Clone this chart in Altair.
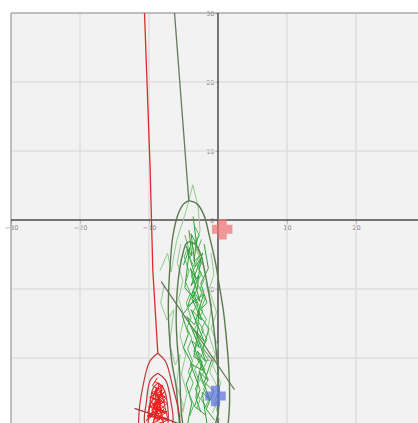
import altair as alt
import pandas as pd

# ---------------- trajectory traces (x, y) ----------------
# red body: long fall from the top, then nested loops near the bottom
red_descent = [(-10.65, 30.0), (-9.83, 7.25), (-9.45, -7.25), (-8.72, -19.3)]
red_loop_outer = [(-8.72, -19.3), (-7.6, -20.5), (-6.55, -24.2), (-5.58, -28.5), (-5.8, -32.0),
                  (-8.5, -34.5), (-11.2, -32.0), (-11.48, -28.5), (-10.9, -24.2), (-9.9, -20.5),
                  (-8.72, -19.3)]
red_loop_mid = [(-8.72, -22.2), (-7.6, -23.2), (-6.78, -26.6), (-6.6, -29.5), (-8.6, -32.0),
                (-10.6, -29.5), (-10.4, -26.6), (-9.8, -23.2), (-8.72, -22.2)]
red_loop_inner = [(-8.7, -23.6), (-7.9, -24.4), (-7.3, -27.0), (-7.4, -30.0), (-8.7, -31.0),
                  (-10.0, -30.0), (-9.9, -27.0), (-9.4, -24.4), (-8.7, -23.6)]
red_scribble_a = [(-8.6, -23.8), (-9.3, -27.2), (-8.1, -24.6), (-9.9, -28.6), (-7.6, -25.9),
                  (-8.9, -24.3), (-10.2, -27.9), (-7.3, -28.8), (-8.4, -24.0), (-9.6, -25.6),
                  (-7.8, -27.3), (-8.8, -29.2), (-9.1, -24.9), (-7.4, -26.6), (-10.4, -29.1),
                  (-8.2, -26.1), (-9.4, -29.4), (-8.0, -23.9)]
red_scribble_b = [(-9.0, -24.4), (-8.3, -28.0), (-9.7, -26.3), (-7.9, -29.4), (-8.7, -25.2),
                  (-10.0, -26.9), (-7.5, -27.9), (-9.2, -28.9), (-8.5, -25.6), (-7.7, -24.8),
                  (-9.6, -27.6), (-8.1, -29.0)]
red_scribble_c = [(-8.8, -22.9), (-9.5, -24.0), (-8.2, -24.8), (-9.9, -25.7), (-7.7, -26.4),
                  (-10.1, -27.1), (-7.4, -27.8), (-10.3, -28.4), (-7.2, -29.0), (-9.0, -29.6)]
red_scribble_d = [(-9.2, -23.4), (-8.0, -24.1), (-9.7, -25.1), (-7.6, -25.6), (-9.4, -26.6),
                  (-8.1, -27.5), (-10.0, -28.2), (-8.4, -28.9), (-9.6, -29.5)]
red_cross_stroke = [(-12.1, -27.3), (-7.03, -29.0), (-5.5, -29.6)]

# green body: straight fall from the top into two large loops with a dense core
green_descent = [(-6.3, 30.0), (-4.23, 2.8)]
green_loop_outer = [(-4.23, 2.8), (-3.0, 2.3), (-2.0, 0.6), (-1.23, -2.42), (-0.4, -6.0),
                    (0.22, -9.67), (0.8, -13.3), (1.19, -16.9), (1.5, -20.5), (1.67, -24.2),
                    (1.6, -28.0), (1.0, -31.5), (-1.5, -34.5), (-4.5, -33.0), (-5.6, -29.0),
                    (-6.06, -24.2), (-6.7, -20.5), (-7.03, -16.9), (-7.2, -13.3), (-7.13, -9.67),
                    (-6.9, -6.0), (-6.55, -2.42), (-5.8, 0.8), (-5.0, 2.3), (-4.23, 2.8)]
green_loop_inner = [(-4.13, -3.14), (-3.2, -3.6), (-2.5, -5.0), (-1.96, -7.25), (-1.3, -10.8),
                    (-0.75, -14.5), (-0.35, -18.1), (-0.03, -21.7), (0.1, -25.0), (0.0, -28.0),
                    (-1.5, -32.0), (-3.5, -33.0), (-5.0, -30.0), (-5.58, -21.7), (-5.9, -18.1),
                    (-6.06, -14.5), (-5.95, -10.8), (-5.58, -7.25), (-5.0, -4.5), (-4.6, -3.4),
                    (-4.13, -3.14)]
green_diagonal = [(-8.23, -8.94), (2.39, -24.6)]

green_light_a = [(-8.4, -7.3), (-7.3, -4.8), (-6.8, -7.5), (-6.0, -3.0), (-4.6, 1.4), (-3.65, 5.1),
                 (-2.9, 2.0), (-2.6, -1.5), (-3.3, -4.0), (-2.2, -6.5)]
green_light_b = [(-7.8, -9.5), (-8.3, -12.0), (-7.4, -14.5), (-6.4, -13.0), (-7.0, -18.0),
                 (-6.2, -21.0), (-5.5, -19.5), (-6.0, -24.0), (-5.0, -27.0), (-5.8, -29.5)]
green_light_c = [(-1.8, -9.0), (-0.9, -12.5), (-1.5, -16.0), (-0.4, -19.5), (-1.2, -22.0),
                 (0.3, -25.0), (-0.8, -28.0)]
green_light_d = [(-5.4, -3.5), (-5.9, -6.2), (-5.1, -8.8), (-5.7, -11.4), (-4.9, -14.1),
                 (-5.5, -16.8), (-4.7, -19.6), (-5.3, -22.3), (-4.5, -25.1), (-5.1, -27.9)]
green_light_e = [(-1.0, -4.8), (-0.6, -7.9), (-1.3, -10.1), (-0.2, -13.4), (-1.0, -15.7),
                 (0.0, -18.3), (-0.8, -21.0), (0.4, -23.6), (-0.5, -26.4), (0.2, -29.0)]

green_core_a = [(-4.2, -1.5), (-3.8, -5.2), (-4.6, -3.8), (-3.2, -8.5), (-4.0, -7.0), (-2.6, -11.8),
                (-3.6, -10.2), (-2.4, -14.5), (-3.9, -13.0), (-2.0, -17.6), (-3.3, -16.0),
                (-1.8, -20.5), (-3.0, -19.0), (-1.5, -23.2), (-2.7, -22.0), (-1.2, -26.0),
                (-2.3, -25.0), (-1.6, -29.5)]
green_core_b = [(-3.0, -2.5), (-3.5, -6.0), (-2.2, -4.8), (-3.9, -9.5), (-2.8, -8.0), (-4.4, -12.5),
                (-2.1, -10.8), (-3.4, -15.2), (-4.5, -14.0), (-2.7, -18.5), (-3.8, -17.5),
                (-2.2, -21.8), (-4.0, -20.8), (-2.6, -24.6), (-3.4, -27.0), (-1.9, -28.2)]
green_core_c = [(-5.0, -6.5), (-4.1, -4.0), (-4.8, -9.8), (-3.4, -11.5), (-5.2, -13.8),
                (-4.3, -16.5), (-5.0, -18.5), (-3.6, -21.2), (-4.6, -23.8), (-3.8, -26.5),
                (-4.4, -29.5)]
green_core_d = [(-2.0, -3.5), (-1.4, -7.0), (-2.5, -9.2), (-1.6, -12.0), (-2.9, -13.4),
                (-1.3, -15.8), (-2.2, -18.6), (-0.9, -20.2), (-2.0, -23.5), (-0.6, -24.8),
                (-1.7, -27.4), (-0.5, -29.0)]
green_core_e = [(-3.6, 0.5), (-3.1, -3.6), (-3.9, -2.0), (-3.3, -6.8), (-2.5, -5.5), (-3.0, -10.0),
                (-3.8, -11.4), (-2.8, -13.6), (-3.0, -16.8), (-3.5, -19.8), (-2.3, -20.5),
                (-2.9, -23.0), (-3.2, -25.8), (-2.5, -27.8)]
green_core_f = [(-4.0, -3.0), (-3.5, -4.4), (-4.1, -5.5), (-3.4, -6.9), (-3.9, -8.1), (-3.2, -9.6),
                (-3.8, -10.7), (-3.1, -12.3), (-3.7, -13.5), (-3.0, -15.1), (-3.6, -16.2),
                (-2.9, -17.8), (-3.5, -19.0), (-2.8, -20.6), (-3.4, -21.7), (-2.7, -23.3),
                (-3.3, -24.5), (-2.6, -26.0), (-3.1, -27.4)]
green_core_g = [(-2.4, -2.8), (-2.9, -4.2), (-2.2, -5.7), (-2.8, -7.2), (-2.0, -8.6), (-2.6, -10.0),
                (-1.9, -11.5), (-2.5, -12.9), (-1.7, -14.4), (-2.4, -15.8), (-1.6, -17.3),
                (-2.3, -18.7), (-1.5, -20.2), (-2.2, -21.6), (-1.4, -23.1), (-2.1, -24.5),
                (-1.3, -26.0), (-2.0, -27.4)]
green_core_h = [(-4.8, -2.2), (-4.3, -3.9), (-4.9, -5.3), (-4.2, -7.5), (-4.7, -9.0), (-4.0, -10.6),
                (-4.6, -12.0), (-3.9, -14.2), (-4.5, -15.6), (-3.8, -17.2), (-4.4, -18.7),
                (-3.7, -20.4), (-4.3, -22.0), (-3.6, -23.6), (-4.2, -25.2), (-3.5, -26.8),
                (-4.1, -28.4)]
green_core_i = [(-3.3, -1.0), (-2.7, -2.3), (-3.4, -3.3), (-2.6, -5.1), (-3.2, -6.2), (-2.4, -7.8),
                (-3.1, -9.2), (-2.3, -10.4), (-3.0, -11.9), (-2.2, -13.2), (-2.9, -14.6),
                (-2.1, -16.0), (-2.8, -17.4), (-2.0, -18.9), (-2.7, -20.2), (-1.9, -21.7),
                (-2.6, -23.0), (-1.8, -24.4), (-2.5, -25.9), (-1.7, -27.2)]

# current positions of the two bodies
red_marker = [(0.61, -1.35)]
blue_marker = [(-0.36, -25.5)]

# axis ticks and grid
x_ticks = [-30, -20, -10, 10, 20]
y_ticks = [30, 20, 10, 0, -10, -20]
grid_x = [-20, -10, 10, 20]
grid_y = [20, 10, -10, -20]

# ---------------- layout ----------------
W, H = 407, 410
PX = 6.9  # pixels per unit
X_MIN, Y_MAX = -30, 30
X_MAX = X_MIN + W / PX
Y_MIN = Y_MAX - H / PX
xs = alt.Scale(domain=[X_MIN, X_MAX], nice=False, zero=False)
ys = alt.Scale(domain=[Y_MIN, Y_MAX], nice=False, zero=False)
x_off = -round(-X_MIN * PX)          # y-axis sits at x = 0
y_off = -round(H - Y_MAX * PX)       # x-axis sits at y = 0

x_axis = alt.Axis(values=x_ticks, orient="bottom", offset=y_off, grid=False, domain=False,
                  tickSize=3, tickColor="#555555", labelFontSize=6.5, labelColor="#888888",
                  labelFont="DejaVu Sans", labelPadding=1, labelFlush=False, title=None)
y_axis = alt.Axis(values=y_ticks, orient="left", offset=x_off, grid=False, domain=False,
                  tickSize=3, tickColor="#555555", labelFontSize=6.5, labelColor="#888888",
                  labelFont="DejaVu Sans", labelPadding=1, labelFlush=False, title=None)


def X(field="x"):
    return alt.X(f"{field}:Q", scale=xs, axis=x_axis)


def Y(field="y"):
    return alt.Y(f"{field}:Q", scale=ys, axis=y_axis)


def traces(named, color, width, interp="linear", opacity=1.0):
    rows = []
    for name, pts in named.items():
        for i, (x, y) in enumerate(pts):
            rows.append({"trace": name, "i": i, "x": x, "y": y})
    return alt.Chart(pd.DataFrame(rows)).mark_line(
        color=color, strokeWidth=width, opacity=opacity, interpolate=interp, clip=True
    ).encode(x=X(), y=Y(), detail="trace:N", order="i:Q")


grid_v = alt.Chart(pd.DataFrame({"x": grid_x})).mark_rule(color="#dedede", strokeWidth=1.5).encode(x=X())
grid_h = alt.Chart(pd.DataFrame({"y": grid_y})).mark_rule(color="#dedede", strokeWidth=1.5).encode(y=Y())
border_top = alt.Chart(pd.DataFrame({"y": [Y_MAX]})).mark_rule(color="#aaaaaa", strokeWidth=1.5).encode(y=Y())
border_left = alt.Chart(pd.DataFrame({"x": [X_MIN]})).mark_rule(color="#aaaaaa", strokeWidth=1.5).encode(x=X())
axis_v = alt.Chart(pd.DataFrame({"x": [0]})).mark_rule(color="#4a4a4a", strokeWidth=1.5).encode(x=X())
axis_h = alt.Chart(pd.DataFrame({"y": [0]})).mark_rule(color="#4a4a4a", strokeWidth=1.5).encode(y=Y())

light_green = traces({"a": green_light_a, "b": green_light_b, "c": green_light_c,
                      "d": green_light_d, "e": green_light_e}, "#8fcb8f", 1.0)
olive_fall = traces({"descent": green_descent, "diag": green_diagonal}, "#687a5c", 1.3)
olive_loops = traces({"outer": green_loop_outer, "inner": green_loop_inner},
                     "#5b7a52", 1.4, interp="catmull-rom")
green_core = traces({"a": green_core_a, "b": green_core_b, "c": green_core_c,
                     "d": green_core_d, "e": green_core_e}, "#2f9e35", 1.0)
green_core2 = traces({"f": green_core_f, "g": green_core_g, "h": green_core_h,
                      "i": green_core_i}, "#3bb043", 1.0, opacity=0.85)
red_fall = traces({"descent": red_descent}, "#dd2a2a", 1.3)
red_loops = traces({"o": red_loop_outer, "m": red_loop_mid, "i": red_loop_inner},
                   "#b8383a", 1.2, interp="catmull-rom")
red_core = traces({"a": red_scribble_a, "b": red_scribble_b, "c": red_scribble_c,
                   "d": red_scribble_d}, "#f01c1c", 1.0)
red_cross = traces({"c": red_cross_stroke}, "#a83a3a", 1.2)


def marker(pts, color):
    df = pd.DataFrame(pts, columns=["x", "y"])
    return alt.Chart(df).mark_point(shape="cross", filled=True, size=360, color=color,
                                    stroke=color, strokeWidth=1.5, opacity=0.7).encode(x=X(), y=Y())


chart = alt.layer(
    grid_v, grid_h, border_top, border_left, axis_v, axis_h,
    light_green, olive_fall, olive_loops, green_core, green_core2,
    red_fall, red_loops, red_core, red_cross,
    marker(red_marker, "#f07070"), marker(blue_marker, "#5a6ee0"),
).properties(
    width=W, height=H,
    autosize=alt.AutoSizeParams(type="none"),
    padding={"left": 11, "top": 13, "right": 0, "bottom": 0},
    background="#ffffff",
).configure_view(
    fill="#f2f2f2", stroke="transparent"
)

chart.save("out.html", embed_options={"renderer": "svg", "actions": False})
